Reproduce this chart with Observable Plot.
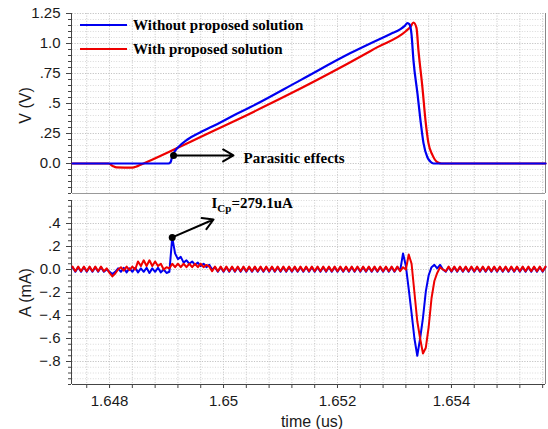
<!DOCTYPE html>
<html><head><meta charset="utf-8">
<script src="https://cdn.jsdelivr.net/npm/d3@7"></script>
<script src="https://cdn.jsdelivr.net/npm/@observablehq/plot@0.6"></script>
<style>
body{margin:0;background:#fff;}
#chart{position:relative;width:548px;height:429px;background:#fff;}
#chart svg{display:block;}
.legend{position:absolute;left:80px;top:0;font:bold 15px "Liberation Serif","Times New Roman",serif;color:#000;}
.row{position:absolute;left:0;display:flex;align-items:center;height:16px;white-space:nowrap;}
.sw{display:inline-block;width:47px;height:0;border-top:2.5px solid;margin-right:6px;}
</style></head><body><div id="chart"></div>
<script>
// ---- series names / colours
const seriesNames = ["Without proposed solution", "With proposed solution"];
const seriesColors = ["#0000f0", "#ee0000"];

// ---- top panel: voltage (V) vs time (us)
const vTimeBlue = [1.64735,1.649035,1.64907,1.649105,1.649158,1.649193,1.649368,1.649596,1.649895,1.650175,1.650474,1.651351,1.652228,1.65293,1.653105,1.653175,1.653228,1.653263,1.653298,1.653333,1.653404,1.653456,1.653509,1.653579,1.653632,1.653684,1.65565];
const vBlue     = [0,0,0.01,0.067,0.11,0.13,0.2,0.26,0.33,0.40,0.47,0.695,0.92,1.08,1.12,1.145,1.17,1.16,1.08,0.86,0.58,0.36,0.17,0.05,0.015,0,0];
const vTimeRed  = [1.64735,1.647982,1.648053,1.648123,1.648404,1.648474,1.648544,1.648596,1.649105,1.649596,1.650175,1.651123,1.652053,1.652702,1.653193,1.653281,1.653333,1.653386,1.653421,1.653491,1.653544,1.653596,1.653667,1.653754,1.653825,1.65565];
const vRed      = [0,0,-0.02,-0.033,-0.035,-0.025,-0.01,0,0.11,0.22,0.35,0.57,0.80,0.97,1.10,1.14,1.175,1.13,0.94,0.63,0.36,0.17,0.07,0.01,0,0];

// ---- bottom panel: current (mA), sampled every iStep us from iStart
const iStart = 1.64735, iStep = 0.00005;
const iBlue = [
 0.02,-0.02,0.02,-0.02,0.02,-0.02,0.02,-0.02,0.02,-0.02,
 0.02,-0.02,0.0,-0.02,-0.04,-0.02,0.01,-0.02,0.015,-0.025,
 0.01,-0.02,0.015,-0.025,0.01,-0.02,0.015,-0.03,0.01,-0.02,
 0.015,-0.025,0.0,-0.03,-0.02,0.279,0.14,0.09,0.11,0.06,
 0.08,0.05,0.07,0.04,0.06,0.03,0.05,0.02,0.04,0.0,
 0.02,-0.02,0.02,-0.02,0.02,-0.02,0.02,-0.02,0.02,-0.02,
 0.02,-0.02,0.02,-0.02,0.02,-0.02,0.02,-0.02,0.02,-0.02,
 0.02,-0.02,0.02,-0.02,0.02,-0.02,0.02,-0.02,0.02,-0.02,
 0.02,-0.02,0.02,-0.02,0.02,-0.02,0.02,-0.02,0.02,-0.02,
 0.02,-0.02,0.02,-0.02,0.02,-0.02,0.02,-0.02,0.02,-0.02,
 0.02,-0.02,0.02,-0.02,0.02,-0.02,0.02,-0.02,0.02,-0.02,
 0.02,-0.02,0.02,-0.02,0.02,-0.01,0.14,0.03,-0.17,-0.38,
 -0.6,-0.75,-0.6,-0.42,-0.19,-0.05,0.02,0.04,0.01,0.04,
 0.0,-0.02,0.02,-0.02,0.02,-0.02,0.02,-0.02,0.02,-0.02,
 0.02,-0.02,0.02,-0.02,0.02,-0.02,0.02,-0.02,0.02,-0.02,
 0.02,-0.02,0.02,-0.02,0.02,-0.02,0.02,-0.02,0.02,-0.02,
 0.02,-0.02,0.02,-0.02,0.02,-0.02,0.02];
const iRed = [
 0.025,-0.015,0.025,-0.015,0.025,-0.015,0.025,-0.015,0.025,-0.015,
 0.025,-0.015,0.01,-0.03,-0.06,-0.035,0.0,0.02,-0.01,0.025,
 -0.005,0.025,0.0,0.07,0.03,0.08,0.03,0.08,0.03,0.07,
 0.03,0.05,0.0,0.02,0.01,0.05,0.02,0.05,0.02,0.05,
 0.02,0.05,0.02,0.05,0.02,0.05,0.02,0.04,0.025,-0.015,
 0.025,-0.015,0.025,-0.015,0.025,-0.015,0.025,-0.015,0.025,-0.015,
 0.025,-0.015,0.025,-0.015,0.025,-0.015,0.025,-0.015,0.025,-0.015,
 0.025,-0.015,0.025,-0.015,0.025,-0.015,0.025,-0.015,0.025,-0.015,
 0.025,-0.015,0.025,-0.015,0.025,-0.015,0.025,-0.015,0.025,-0.015,
 0.025,-0.015,0.025,-0.015,0.025,-0.015,0.025,-0.015,0.025,-0.015,
 0.025,-0.015,0.025,-0.015,0.025,-0.015,0.025,-0.015,0.025,-0.015,
 0.025,-0.015,0.025,-0.015,0.025,-0.015,0.02,0.0,0.13,0.05,
 -0.2,-0.45,-0.6,-0.73,-0.68,-0.5,-0.25,-0.1,-0.03,0.02,
 0.0,-0.015,0.025,-0.015,0.025,-0.015,0.025,-0.015,0.025,-0.015,
 0.025,-0.015,0.025,-0.015,0.025,-0.015,0.025,-0.015,0.025,-0.015,
 0.025,-0.015,0.025,-0.015,0.025,-0.015,0.025,-0.015,0.025,-0.015,
 0.025,-0.015,0.025,-0.015,0.025,-0.015,0.025];

// ---- axes
const xDomain = [1.64735, 1.65565];
const vDomain = [-0.25, 1.25];
const iDomain = [-1.0, 0.6];
const xTickValues = [1.648, 1.650, 1.652, 1.654];
const xTickLabels = ["1.648", "1.65", "1.652", "1.654"];
const vTickValues = [1.25, 1.0, 0.75, 0.5, 0.25, 0.0];
const vTickLabels = ["1.25", "1.0", ".75", ".5", ".25", "0.0"];
const iTickValues = [0.4, 0.2, 0.0, -0.2, -0.4, -0.6, -0.8];
const iTickLabels = [".4", ".2", "0.0", "\u2212.2", "\u2212.4", "\u2212.6", "\u2212.8"];
const vAxisTitle = "V (V)", iAxisTitle = "A (mA)", xAxisTitle = "time (us)";

// ---- annotations
const annoV = [{t: 1.649123, v: 0.067, tEnd: 1.650175, tText: 1.65035, vText: 0.046, text: "Parasitic effects"}];
const annoI = [{t: 1.6491, v: 0.279, tEnd: 1.649825, vEnd: 0.435, tText: 1.649789, vText: 0.574,
                main: "I", sub: "Cp", rest: "=279.1uA"}];

// ---- tables
const vData = [
  ...vTimeBlue.map((t, k) => ({t, v: vBlue[k], s: seriesNames[0]})),
  ...vTimeRed.map((t, k) => ({t, v: vRed[k], s: seriesNames[1]}))
];
const iData = [
  ...iBlue.map((v, k) => ({t: iStart + k * iStep, v, s: seriesNames[0]})),
  ...iRed.map((v, k) => ({t: iStart + k * iStep, v, s: seriesNames[1]}))
];
const xMinor = d3.range(0, 21).map(k => 1.6476 + k * 0.0004);
const vMinor = d3.range(0, 31).map(k => +(-0.25 + k * 0.05).toFixed(3));
const iMinor = d3.range(0, 33).map(k => +(-1.0 + k * 0.05).toFixed(3));

const sansFont = '"Liberation Sans", Arial, sans-serif';
const serifFont = '"Liberation Serif", "Times New Roman", serif';
const common = {
  width: 548, marginLeft: 72, marginRight: 3,
  style: {fontFamily: sansFont, fontSize: "15px", color: "#1a1a1a", background: "white", overflow: "visible"}
};
const gridStyle = {stroke: "#c4c4c4", strokeOpacity: 1, strokeDasharray: "1,1.6"};
const minorGridStyle = {stroke: "#dadada", strokeOpacity: 1, strokeDasharray: "1,1.6"};
const lbl = (vals, labels) => d => labels[vals.findIndex(x => Math.abs(x - d) < 1e-9)];
const only = (name) => d => d.s === name;

const topPlot = Plot.plot({
  ...common, height: 197, marginTop: 13, marginBottom: 4,
  x: {domain: xDomain, axis: null},
  y: {domain: vDomain},
  marks: [
    Plot.gridY(vMinor, minorGridStyle),
    Plot.gridY(vTickValues, gridStyle),
    Plot.gridX(xMinor, gridStyle),
    Plot.ruleY([vDomain[0]], {stroke: "#999"}),
    Plot.ruleX([xDomain[1]], {stroke: "#888"}),
    Plot.ruleX([xDomain[0]], {stroke: "#444", dx: -1}),
    Plot.axisY(vMinor, {tickSize: 3, dx: -1, tickFormat: () => "", label: null, stroke: "#444"}),
    Plot.axisY(vTickValues, {tickSize: 5, dx: -1, tickPadding: 6, tickFormat: lbl(vTickValues, vTickLabels), label: null, fontSize: 15, stroke: "#444"}),
    Plot.text([vAxisTitle], {frameAnchor: "left", textAnchor: "middle", lineAnchor: "middle", rotate: -90, dx: -47, dy: 2, fontSize: 16, fill: "#1a1a1a"}),
    Plot.line(vData.filter(only(seriesNames[1])), {x: "t", y: "v", stroke: seriesColors[1], strokeWidth: 2.2, curve: "monotone-x"}),
    Plot.line(vData.filter(only(seriesNames[0])), {x: "t", y: "v", stroke: seriesColors[0], strokeWidth: 2.2, curve: "monotone-x"}),
    Plot.arrow(annoV, {x1: "t", y1: "v", x2: "tEnd", y2: "v", stroke: "black", strokeWidth: 2, headLength: 9}),
    Plot.dot(annoV, {x: "t", y: "v", r: 3.5, fill: "black"}),
    Plot.text(annoV, {x: "tText", y: "vText", text: "text", textAnchor: "start", fontFamily: serifFont, fontWeight: "bold", fontSize: 15, fill: "black"})
  ]
});

const botPlot = Plot.plot({
  ...common, height: 232, marginTop: 3, marginBottom: 45,
  x: {domain: xDomain},
  y: {domain: iDomain},
  marks: [
    Plot.gridY(iMinor, minorGridStyle),
    Plot.gridY(iTickValues, gridStyle),
    Plot.gridX(xMinor, gridStyle),
    Plot.ruleX([xDomain[1]], {stroke: "#888"}),
    Plot.ruleX([xDomain[0]], {stroke: "#444", dx: -1}),
    Plot.ruleY([iDomain[0]], {stroke: "#444"}),
    Plot.axisY(iMinor, {tickSize: 3, dx: -1, tickFormat: () => "", label: null, stroke: "#444"}),
    Plot.axisY(iTickValues, {tickSize: 5, dx: -1, tickPadding: 6, tickFormat: lbl(iTickValues, iTickLabels), label: null, fontSize: 15, stroke: "#444"}),
    Plot.axisX(xMinor, {tickSize: 4, tickFormat: () => "", label: null, stroke: "#444"}),
    Plot.axisX(xTickValues, {tickSize: 4, tickPadding: 7, tickFormat: lbl(xTickValues, xTickLabels), label: null, fontSize: 15, stroke: "#444"}),
    Plot.text([iAxisTitle], {frameAnchor: "left", textAnchor: "middle", lineAnchor: "middle", rotate: -90, dx: -47, fontSize: 16, fill: "#1a1a1a"}),
    Plot.text([xAxisTitle], {frameAnchor: "bottom", lineAnchor: "middle", dy: 37, dx: 3, fontSize: 16, fill: "#1a1a1a"}),
    Plot.line(iData.filter(only(seriesNames[0])), {x: "t", y: "v", stroke: seriesColors[0], strokeWidth: 2}),
    Plot.line(iData.filter(only(seriesNames[1])), {x: "t", y: "v", stroke: seriesColors[1], strokeWidth: 2}),
    Plot.arrow(annoI, {x1: "t", y1: "v", x2: "tEnd", y2: "vEnd", stroke: "black", strokeWidth: 2, headLength: 9}),
    Plot.dot(annoI, {x: "t", y: "v", r: 3.5, fill: "black"}),
    Plot.text(annoI, {x: "tText", y: "vText", text: d => d.main + d.sub + d.rest, textAnchor: "start", fontFamily: serifFont, fontWeight: "bold", fontSize: 15, fill: "black"})
  ]
});

// subscript for the current annotation
const a = annoI[0];
botPlot.querySelectorAll("text").forEach(el => {
  if (el.textContent === a.main + a.sub + a.rest) {
    el.textContent = "";
    const ns = "http://www.w3.org/2000/svg";
    const t1 = document.createElementNS(ns, "tspan"); t1.textContent = a.main;
    const t2 = document.createElementNS(ns, "tspan"); t2.textContent = a.sub;
    t2.setAttribute("dy", "4"); t2.setAttribute("font-size", "11");
    const t3 = document.createElementNS(ns, "tspan"); t3.textContent = a.rest;
    t3.setAttribute("dy", "-4");
    el.append(t1, t2, t3);
  }
});

const chart = document.getElementById("chart");
chart.append(topPlot, botPlot);

// legend (inside the top panel)
const legend = document.createElement("div");
legend.className = "legend";
seriesNames.forEach((name, k) => {
  const row = document.createElement("div");
  row.className = "row";
  row.style.top = (17 + k * 24) + "px";
  const sw = document.createElement("span");
  sw.className = "sw"; sw.style.borderTopColor = seriesColors[k];
  const tx = document.createElement("span"); tx.textContent = name;
  row.append(sw, tx);
  legend.append(row);
});
chart.append(legend);
</script></body></html>
